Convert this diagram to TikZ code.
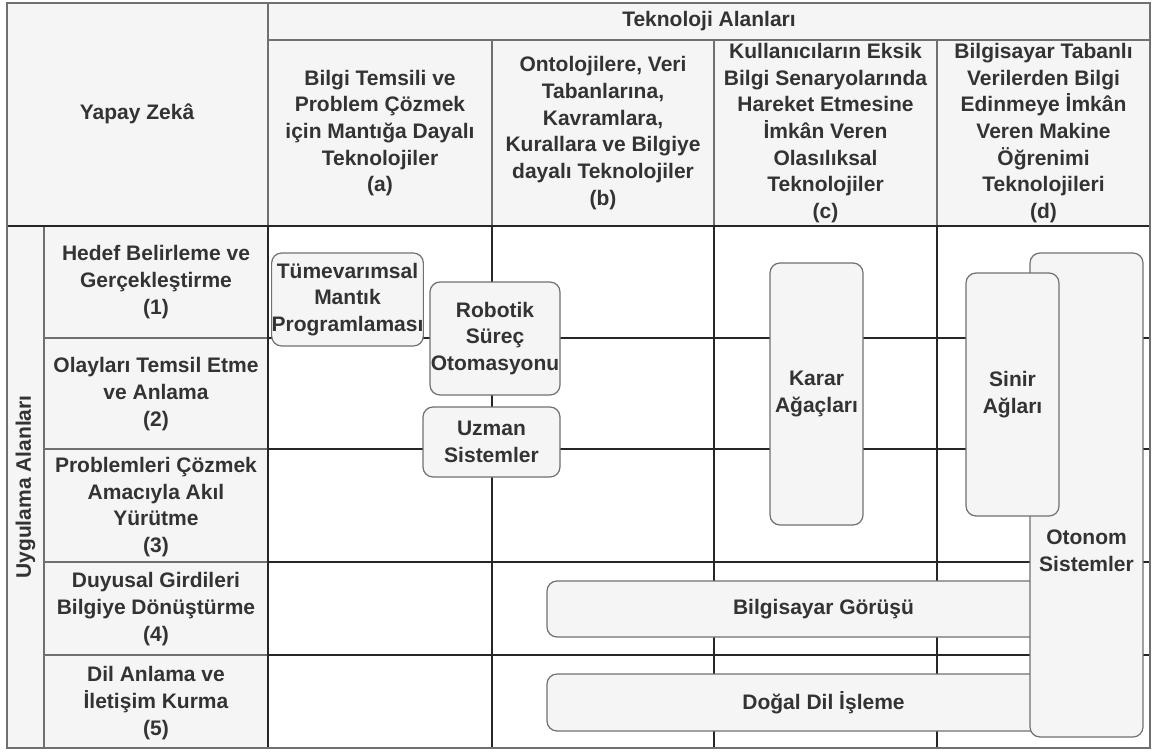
\documentclass[tikz,border=0pt]{standalone}
\usepackage{fontspec}
\setmainfont{Liberation Sans}
\usetikzlibrary{positioning}
\definecolor{zemin}{HTML}{F5F5F5}
\definecolor{kenar}{HTML}{707070}
\definecolor{koyu}{HTML}{262626}
\definecolor{yazirengi}{HTML}{333333}
\tikzset{
  yazi/.style={align=center,text=yazirengi,inner sep=0pt,
               font=\bfseries\fontsize{21}{26.7}\selectfont},
  kutu/.style={yazi,draw=kenar,line width=1.2pt,rounded corners=10pt,fill=zemin},
  cizgi/.style={draw=koyu,line width=1.3pt},
  ince/.style={draw=kenar,line width=1.3pt},
}
\begin{document}
\begin{tikzpicture}[x=1pt,y=-1pt]
  \useasboundingbox (0,0) rectangle (1155,752);
  % zeminler
  \fill[zemin] (7,3) rectangle (1150,226);
  \fill[zemin] (7,226) rectangle (268,748);
  % izgara
  \foreach \y in {338,449,562,655} {
    \draw[ince] (44,\y) -- (268,\y);
    \draw[cizgi] (268,\y) -- (1150,\y);
  }
  \foreach \x in {492,714,937} {
    \draw[ince] (\x,40) -- (\x,226);
    \draw[cizgi] (\x,226) -- (\x,748);
  }
  \draw[ince] (268,40) -- (1150,40);
  \draw[ince] (268,3) -- (268,226);
  \draw[cizgi] (268,226) -- (268,748);
  \draw[ince] (44,226) -- (44,748);
  \draw[cizgi] (7,226) -- (1150,226);
  \draw[ince] (7,3) rectangle (1150,748);
  % basliklar
  \node[yazi] (yz) at (137,114) {Yapay Zekâ};
  \node[yazi] (ta) at (709,21) {Teknoloji Alanları};
  \node[yazi] (ka) at (380,133) {Bilgi Temsili ve\\Problem Çözmek\\için Mantığa Dayalı\\Teknolojiler\\(a)};
  \node[yazi] (kb) at (603,133) {Ontolojilere, Veri\\Tabanlarına,\\Kavramlara,\\Kurallara ve Bilgiye\\dayalı Teknolojiler\\(b)};
  \node[yazi] (kc) at (825.5,133) {Kullanıcıların Eksik\\Bilgi Senaryolarında\\Hareket Etmesine\\İmkân Veren\\Olasılıksal\\Teknolojiler\\(c)};
  \node[yazi] (kd) at (1043.5,133) {Bilgisayar Tabanlı\\Verilerden Bilgi\\Edinmeye İmkân\\Veren Makine\\Öğrenimi\\Teknolojileri\\(d)};
  \node[yazi,rotate=90] (ua) at (25.5,487) {Uygulama Alanları};
  \node[yazi] (s1) at (156,282) {Hedef Belirleme ve\\Gerçekleştirme\\(1)};
  \node[yazi] (s2) at (156,394) {Olayları Temsil Etme\\ve Anlama\\(2)};
  \node[yazi] (s3) at (156,507) {Problemleri Çözmek\\Amacıyla Akıl\\Yürütme\\(3)};
  \node[yazi] (s4) at (156,609) {Duyusal Girdileri\\Bilgiye Dönüştürme\\(4)};
  \node[yazi] (s5) at (156,703) {Dil Anlama ve\\İletişim Kurma\\(5)};
  % teknolojiler
  \node[kutu,minimum width=145pt,minimum height=93pt] (tmp) at (347.5,299.5) {Tümevarımsal\\Mantık\\Programlaması};
  \node[kutu,minimum width=130pt,minimum height=113pt] (rso) at (495,338.5) {Robotik\\Süreç\\Otomasyonu};
  \node[kutu,minimum width=137pt,minimum height=70pt] (uzman) at (491.5,442) {Uzman\\Sistemler};
  \node[kutu,minimum width=93pt,minimum height=262pt] (karar) at (816.5,394) {Karar\\Ağaçları};
  \node[kutu,minimum width=553pt,minimum height=56pt] (gorus) at (823.5,609) {Bilgisayar Görüşü};
  \node[kutu,minimum width=553pt,minimum height=57pt] (dil) at (823.5,702.5) {Doğal Dil İşleme};
  \node[kutu,minimum width=113pt,minimum height=484pt] (otonom) at (1086.5,495) {};
  \node[yazi] (otonomyazi) at ([yshift=-56pt]otonom.center) {Otonom\\Sistemler};
  \node[kutu,minimum width=93pt,minimum height=243pt] (sinir) at (1012.5,394.5) {Sinir\\Ağları};
\end{tikzpicture}
\end{document}
